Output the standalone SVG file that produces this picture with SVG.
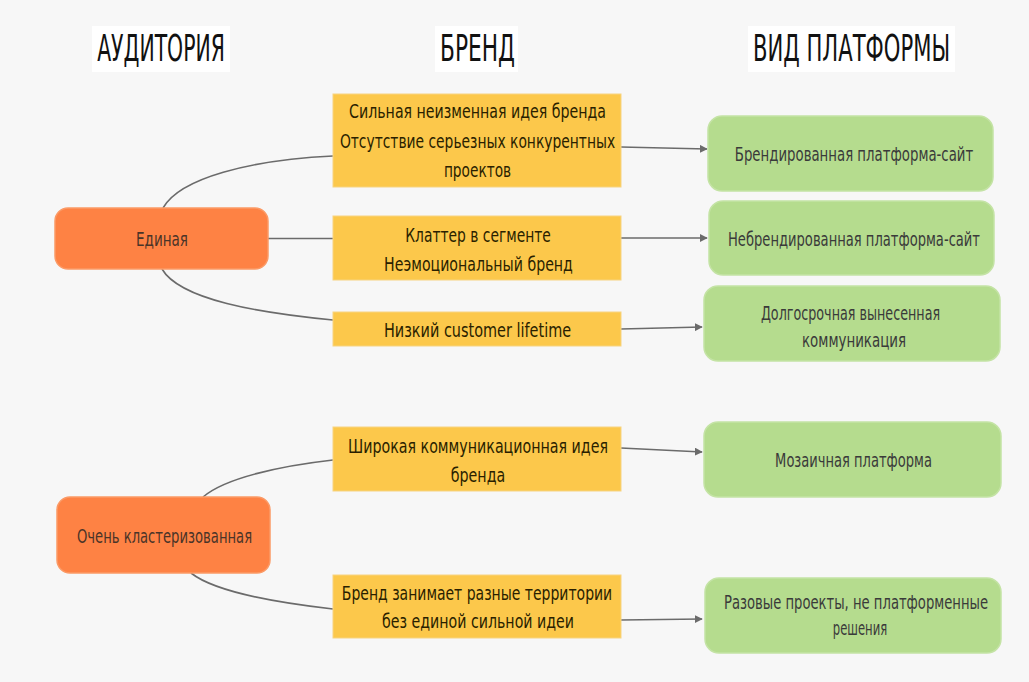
<svg xmlns="http://www.w3.org/2000/svg" width="1029" height="682" viewBox="0 0 1029 682">
<style>
text{font-family:"Liberation Sans Narrow","DejaVu Sans Condensed","Roboto Condensed","Liberation Sans",sans-serif;text-anchor:middle}
.t{font-size:38px;fill:#111}
.y{font-size:20px;fill:#2a1f00}
.o{font-size:20px;fill:#4a3428}
.g{font-size:19px;fill:#3a3a3a}
.ybox{fill:#fcc84b;stroke:#f7d481;stroke-width:1}
.obox{fill:#fe8244;stroke:#fb9a66;stroke-width:1.5}
.gbox{fill:#b5dc8e;stroke:#c4e3a5;stroke-width:1.5}
.c{fill:none;stroke:#6b6b6b;stroke-width:1.6}
</style>
<defs>
<marker id="ar" viewBox="0 0 10 10" refX="9" refY="5" markerWidth="5" markerHeight="5" orient="auto" markerUnits="strokeWidth">
<path d="M0,0 L10,5 L0,10 z" fill="#6b6b6b"/>
</marker>
</defs>
<rect width="1029" height="682" fill="#f7f7f7"/>
<g id="headers">
<rect x="92" y="26" width="138" height="46" fill="#fff"/>
<text class="t" transform="translate(161,61) scale(0.62,1)" textLength="206" lengthAdjust="spacingAndGlyphs">АУДИТОРИЯ</text>
<rect x="435" y="26" width="83" height="46" fill="#fff"/>
<text class="t" transform="translate(477.5,61) scale(0.62,1)" textLength="121" lengthAdjust="spacingAndGlyphs">БРЕНД</text>
<rect x="748" y="26" width="207" height="46" fill="#fff"/>
<text class="t" transform="translate(851.5,61) scale(0.62,1)" textLength="318" lengthAdjust="spacingAndGlyphs">ВИД ПЛАТФОРМЫ</text>
</g>
<g id="connectors">
<path class="c" d="M163,208 C180,178 250,160 333,156"/>
<path class="c" d="M268,238.5 L333,238.5"/>
<path class="c" d="M162,269 C180,300 260,313 333,320"/>
<path class="c" d="M203,497 C225,478 280,466 333,460"/>
<path class="c" d="M191,573 C215,592 280,603 333,609"/>
<path class="c" d="M621,147 L707,149" marker-end="url(#ar)"/>
<path class="c" d="M621,238 L707,238" marker-end="url(#ar)"/>
<path class="c" d="M621,329 L702,327" marker-end="url(#ar)"/>
<path class="c" d="M621,448 L702,452" marker-end="url(#ar)"/>
<path class="c" d="M621,620 L702,619" marker-end="url(#ar)"/>
</g>
<g id="aud1">
<rect class="obox" x="55" y="208" width="213" height="61" rx="13"/>
<text class="o" transform="translate(162,246) scale(0.8,1)" textLength="65" lengthAdjust="spacingAndGlyphs">Единая</text>
</g>
<g id="aud2">
<rect class="obox" x="57" y="497" width="213" height="76" rx="13"/>
<text class="o" transform="translate(164.5,543) scale(0.8,1)" textLength="219" lengthAdjust="spacingAndGlyphs">Очень кластеризованная</text>
</g>
<g id="brand1">
<rect class="ybox" x="333" y="94" width="288" height="93"/>
<text class="y" transform="translate(477.5,118) scale(0.8,1)" textLength="321" lengthAdjust="spacingAndGlyphs">Сильная неизменная идея бренда</text>
<text class="y" transform="translate(477.5,148) scale(0.8,1)" textLength="344" lengthAdjust="spacingAndGlyphs">Отсутствие серьезных конкурентных</text>
<text class="y" transform="translate(477.5,177) scale(0.8,1)" textLength="84" lengthAdjust="spacingAndGlyphs">проектов</text>
</g>
<g id="brand2">
<rect class="ybox" x="333" y="216" width="288" height="64"/>
<text class="y" transform="translate(478,242) scale(0.8,1)" textLength="182" lengthAdjust="spacingAndGlyphs">Клаттер в сегменте</text>
<text class="y" transform="translate(478.5,271) scale(0.8,1)" textLength="236" lengthAdjust="spacingAndGlyphs">Неэмоциональный бренд</text>
</g>
<g id="brand3">
<rect class="ybox" x="333" y="312" width="288" height="34"/>
<text class="y" transform="translate(477.5,337) scale(0.8,1)" textLength="234" lengthAdjust="spacingAndGlyphs">Низкий customer lifetime</text>
</g>
<g id="brand4">
<rect class="ybox" x="333" y="427" width="288" height="64"/>
<text class="y" transform="translate(478,453) scale(0.8,1)" textLength="325" lengthAdjust="spacingAndGlyphs">Широкая коммуникационная идея</text>
<text class="y" transform="translate(478,482) scale(0.8,1)" textLength="68" lengthAdjust="spacingAndGlyphs">бренда</text>
</g>
<g id="brand5">
<rect class="ybox" x="333" y="575" width="288" height="63"/>
<text class="y" transform="translate(477,600) scale(0.8,1)" textLength="338" lengthAdjust="spacingAndGlyphs">Бренд занимает разные территории</text>
<text class="y" transform="translate(478,628) scale(0.8,1)" textLength="240" lengthAdjust="spacingAndGlyphs">без единой сильной идеи</text>
</g>
<g id="plat1">
<rect class="gbox" x="708" y="116" width="285" height="75" rx="14"/>
<text class="g" transform="translate(854,161) scale(0.8,1)" textLength="298" lengthAdjust="spacingAndGlyphs">Брендированная платформа-сайт</text>
</g>
<g id="plat2">
<rect class="gbox" x="709" y="201" width="285" height="74" rx="14"/>
<text class="g" transform="translate(854,246) scale(0.8,1)" textLength="315" lengthAdjust="spacingAndGlyphs">Небрендированная платформа-сайт</text>
</g>
<g id="plat3">
<rect class="gbox" x="704" y="286" width="296" height="75" rx="14"/>
<text class="g" transform="translate(850.5,320) scale(0.8,1)" textLength="224" lengthAdjust="spacingAndGlyphs">Долгосрочная вынесенная</text>
<text class="g" transform="translate(854,347) scale(0.8,1)" textLength="130" lengthAdjust="spacingAndGlyphs">коммуникация</text>
</g>
<g id="plat4">
<rect class="gbox" x="704" y="422" width="297" height="75" rx="14"/>
<text class="g" transform="translate(853.5,467) scale(0.8,1)" textLength="196" lengthAdjust="spacingAndGlyphs">Мозаичная платформа</text>
</g>
<g id="plat5">
<rect class="gbox" x="705" y="578" width="296" height="75" rx="14"/>
<text class="g" transform="translate(856,609) scale(0.8,1)" textLength="330" lengthAdjust="spacingAndGlyphs">Разовые проекты, не платформенные</text>
<text class="g" transform="translate(860,635) scale(0.8,1)" textLength="68" lengthAdjust="spacingAndGlyphs">решения</text>
</g>
</svg>
